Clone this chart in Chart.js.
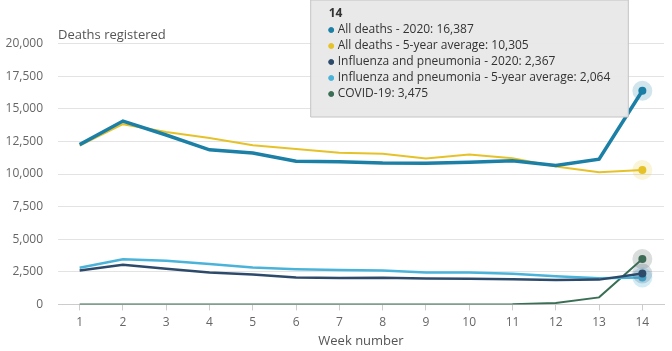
<!DOCTYPE html>
<html>
<head>
<meta charset="utf-8">
<script src="https://cdn.jsdelivr.net/npm/chart.js@4/dist/chart.umd.min.js"></script>
<style>
  html, body { margin: 0; padding: 0; background: #fff; }
  #wrap { width: 672px; height: 351px; }
</style>
</head>
<body>
<div id="wrap"><canvas id="c" width="672" height="351"></canvas></div>
<script>
const weeks = ['1','2','3','4','5','6','7','8','9','10','11','12','13','14'];
const allDeaths2020 = [12254, 14058, 12990, 11856, 11612, 10986, 10944, 10841, 10816, 10895, 11019, 10645, 11141, 16387];
const allDeathsAvg = [12175, 13822, 13216, 12760, 12206, 11925, 11627, 11548, 11183, 11498, 11205, 10573, 10130, 10305];
const flu2020 = [2600, 3040, 2735, 2450, 2300, 2070, 2020, 2050, 1990, 1960, 1930, 1870, 1900, 2367];
const fluAvg = [2810, 3470, 3350, 3090, 2835, 2700, 2630, 2600, 2450, 2440, 2350, 2160, 2000, 2064];
const covid = [0, 0, 0, 0, 0, 0, 0, 0, 0, 0, 5, 103, 539, 3475];
const seriesNames = ['All deaths - 2020', 'All deaths - 5-year average', 'Influenza and pneumonia - 2020', 'Influenza and pneumonia - 5-year average', 'COVID-19'];
const yTicks = [0, 2500, 5000, 7500, 10000, 12500, 15000, 17500, 20000];

Chart.defaults.font.family = "'Open Sans', sans-serif";
Chart.defaults.color = '#666';

Chart.Tooltip.positioners.topFixed = function(items) {
  const a = this.chart.chartArea;
  return { x: a.left + (a.right - a.left) * 0.417, y: 0, xAlign: 'left', yAlign: 'top' };
};

function mk(label, data, color, halo, width) {
  return {
    label, data,
    borderColor: color, backgroundColor: color,
    borderWidth: width,
    pointRadius: 0,
    pointHoverRadius: 4,
    pointHoverBorderWidth: 12,
    pointHoverBackgroundColor: color,
    pointHoverBorderColor: halo,
    tension: 0
  };
}

const chart = new Chart(document.getElementById('c'), {
  type: 'line',
  data: {
    labels: weeks,
    datasets: [
      mk(seriesNames[0], allDeaths2020, '#1b7fa6', 'rgba(27,127,166,0.2)', 3.5),
      mk(seriesNames[1], allDeathsAvg, '#e6c229', 'rgba(230,194,41,0.18)', 2),
      mk(seriesNames[2], flu2020, '#2e4a6b', 'rgba(46,74,107,0.2)', 2.5),
      mk(seriesNames[3], fluAvg, '#4ab3da', 'rgba(74,179,218,0.25)', 2.5),
      mk(seriesNames[4], covid, '#3a6e55', 'rgba(80,100,90,0.22)', 2)
    ]
  },
  options: {
    responsive: false,
    animation: false,
    events: [],
    layout: { padding: { left: 0, right: 8, top: 0, bottom: 0 } },
    interaction: { mode: 'index', intersect: false },
    scales: {
      x: {
        offset: true,
        grid: { display: true, drawOnChartArea: false, drawTicks: true, tickLength: 6, color: '#cccccc' },
        border: { display: true, color: '#cccccc' },
        ticks: { padding: 6, font: { size: 12, lineHeight: 1 }, color: '#666', maxRotation: 0 },
        title: { display: true, text: 'Week number', font: { size: 13 }, color: '#555', padding: { top: -1, bottom: 2 } }
      },
      y: {
        min: 0, max: 20000,
        afterBuildTicks: (s) => { s.ticks = yTicks.map(v => ({ value: v })); },
        afterFit: (s) => { s.width = 58; },
        grid: { color: '#e3e3e3', drawTicks: false },
        border: { display: false },
        ticks: { padding: 15, font: { size: 12 }, color: '#666',
          callback: (v) => v.toLocaleString('en-GB') }
      }
    },
    plugins: {
      legend: { display: false },
      title: {
        display: true, text: 'Deaths registered', align: 'start', fullSize: false,
        font: { size: 13, weight: 'normal' }, color: '#555',
        padding: { top: 27, bottom: 1 }
      },
      tooltip: {
        position: 'topFixed',
        backgroundColor: 'rgba(232,232,232,0.97)',
        borderColor: '#c4c4c4', borderWidth: 1,
        cornerRadius: 0, caretSize: 0, caretPadding: 0,
        titleColor: '#333', bodyColor: '#333',
        titleFont: { size: 12, weight: 'bold' },
        bodyFont: { size: 12, lineHeight: 1 },
        titleMarginBottom: 3.6, bodySpacing: 4,
        padding: { top: 6, bottom: 17, left: 18, right: 18 },
        usePointStyle: true, boxWidth: 5, boxHeight: 5, boxPadding: 2,
        multiKeyBackground: 'rgba(0,0,0,0)',
        callbacks: {
          label: (ctx) => ctx.dataset.label + ': ' + ctx.parsed.y.toLocaleString('en-GB'),
          labelColor: (ctx) => ({ borderColor: ctx.dataset.borderColor, backgroundColor: ctx.dataset.borderColor }),
          labelPointStyle: () => ({ pointStyle: 'circle', rotation: 0 })
        }
      }
    }
  }
});

const idx = weeks.length - 1;
const act = chart.data.datasets.map((d, i) => ({ datasetIndex: i, index: idx }));
chart.setActiveElements(act);
const p = chart.getDatasetMeta(0).data[idx];
chart.tooltip.setActiveElements(act, { x: p.x, y: p.y });
chart.update();
</script>
</body>
</html>
